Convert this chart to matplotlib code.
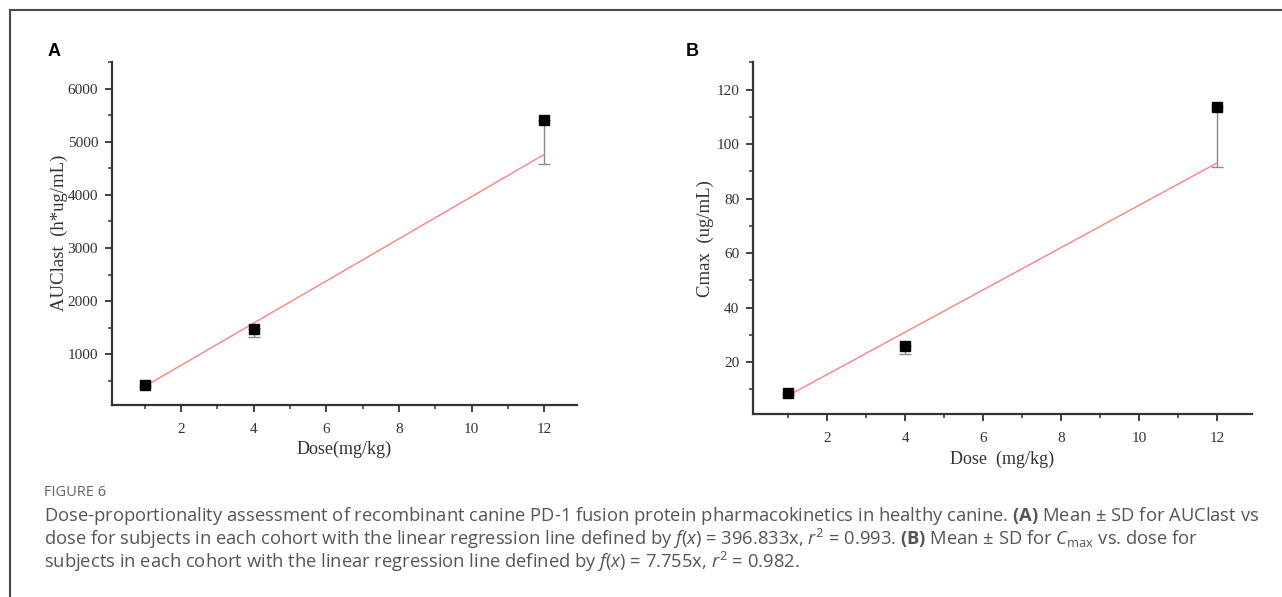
import matplotlib
matplotlib.use("Agg")
import matplotlib.pyplot as plt
from matplotlib.ticker import MultipleLocator
from matplotlib.lines import Line2D
import numpy as np

# ---------------- data ----------------
dose = [1, 4, 12]
auc_mean = [420, 1482, 5410]
auc_sd = [40, 150, 822]
cmax_mean = [8.6, 26.0, 113.5]
cmax_sd = [0.6, 3.0, 21.8]
auc_slope = 396.833
cmax_slope = 7.755
fit_dose = [1, 12]

plt.rcParams['mathtext.fontset'] = 'custom'
plt.rcParams['mathtext.rm'] = 'Open Sans'
plt.rcParams['mathtext.it'] = 'Open Sans:italic'
plt.rcParams['mathtext.bf'] = 'Open Sans:bold'

SERIF = 'Liberation Serif'
TICKC = '#333333'

fig = plt.figure(figsize=(12.82, 5.97), dpi=100)

def style_ax(ax, ylim, ymajor, yminor):
    ax.set_xlim(0.1, 12.9)
    ax.set_ylim(*ylim)
    ax.xaxis.set_major_locator(MultipleLocator(2))
    ax.xaxis.set_minor_locator(MultipleLocator(1))
    ax.yaxis.set_major_locator(MultipleLocator(ymajor))
    ax.yaxis.set_minor_locator(MultipleLocator(yminor))
    for s in ['top', 'right']:
        ax.spines[s].set_visible(False)
    for s in ['left', 'bottom']:
        ax.spines[s].set_linewidth(1.6)
        ax.spines[s].set_color('#333333')
    ax.tick_params(which='major', direction='out', length=5, width=1.3,
                   color='#333333', labelsize=11, labelcolor=TICKC, pad=5)
    ax.tick_params(which='minor', direction='out', length=3, width=1.1,
                   color='#333333')
    ax.tick_params(axis='x', which='major', pad=8)
    for lab in ax.get_xticklabels() + ax.get_yticklabels():
        lab.set_fontfamily(SERIF)

def draw(ax, mean, sd, slope):
    lower = np.array(sd, dtype=float)
    upper = np.zeros_like(lower)
    ax.errorbar(dose, mean, yerr=[lower, upper], fmt='none', ecolor='#8a8a8a',
                elinewidth=1.0, capsize=4, capthick=1.0, zorder=2)
    fx = np.array(fit_dose, dtype=float)
    ax.plot(fx, slope * fx, color='#ff8080', lw=1.0, zorder=3)
    ax.plot(dose, mean, 's', color='black', markersize=7, zorder=4)

# Panel A
axA = fig.add_axes([0.0874, 0.3224, 0.3627, 0.5737])
draw(axA, auc_mean, auc_sd, auc_slope)
style_ax(axA, (55, 6500), 1000, 500)
axA.set_xlabel('Dose(mg/kg)', fontfamily=SERIF, fontsize=13, color='#333333', labelpad=4)
axA.set_ylabel('AUClast  (h*ug/mL)', fontfamily=SERIF, fontsize=13.5, color='#333333', labelpad=0)

# Panel B
axB = fig.add_axes([0.5874, 0.3065, 0.3892, 0.5891])
draw(axB, cmax_mean, cmax_sd, cmax_slope)
style_ax(axB, (1, 130), 20, 10)
axB.set_xlabel('Dose  (mg/kg)', fontfamily=SERIF, fontsize=13, color='#333333', labelpad=4)
axB.set_ylabel('Cmax  (ug/mL)', fontfamily=SERIF, fontsize=13.5, color='#333333', labelpad=2)

# panel letters
fig.text(48 / 1282, 1 - 52 / 597, 'A', fontsize=13, fontweight='bold',
         fontfamily='Liberation Sans', va='center', ha='left', color='black')
fig.text(686 / 1282, 1 - 52 / 597, 'B', fontsize=13, fontweight='bold',
         fontfamily='Liberation Sans', va='center', ha='left', color='black')

# frame lines (top and left)
fig.add_artist(Line2D([10 / 1282, 1.0], [1 - 10 / 597, 1 - 10 / 597],
                      transform=fig.transFigure, color='#4a4a4a', lw=1.5))
fig.add_artist(Line2D([10 / 1282, 10 / 1282], [0.0, 1 - 10 / 597],
                      transform=fig.transFigure, color='#4a4a4a', lw=1.5))

# caption
CAPC = '#555555'
CAPF = 'Open Sans'
fig.text(44 / 1282, 1 - 492 / 597, 'FIGURE 6', fontsize=10.5, fontfamily=CAPF,
         color='#666666', va='center', ha='left')
cap_lines = [
    r'Dose-proportionality assessment of recombinant canine PD-1 fusion protein pharmacokinetics in healthy canine. $\mathbf{(A)}$ Mean $\pm$ SD for AUClast vs',
    r'dose for subjects in each cohort with the linear regression line defined by $f$($x$) = 396.833x, $r^2$ = 0.993. $\mathbf{(B)}$ Mean $\pm$ SD for $C_{\mathrm{max}}$ vs. dose for',
    r'subjects in each cohort with the linear regression line defined by $f$($x$) = 7.755x, $r^2$ = 0.982.',
]
cap_y = [516, 539, 562]
for t, y in zip(cap_lines, cap_y):
    fig.text(44 / 1282, 1 - y / 597, t, fontsize=13.2, fontfamily=CAPF,
             color=CAPC, va='center', ha='left')

fig.savefig('out.png', dpi=100, facecolor='white')
